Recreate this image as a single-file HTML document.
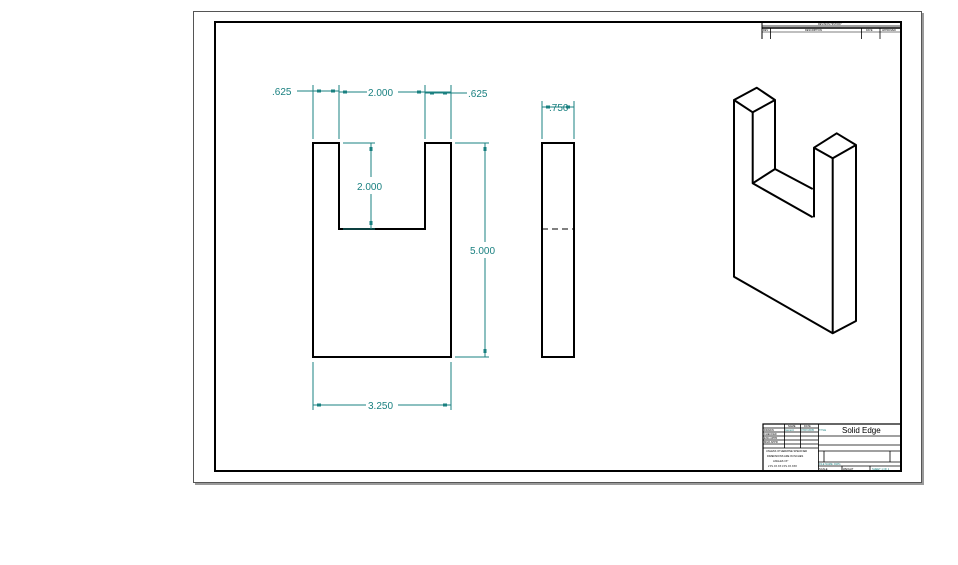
<!DOCTYPE html>
<html><head><style>
html,body{margin:0;padding:0;background:#fff;width:958px;height:565px;overflow:hidden}
svg{display:block}
text{font-family:"Liberation Sans",sans-serif}
</style></head><body>
<svg width="958" height="565" viewBox="0 0 958 565" xmlns="http://www.w3.org/2000/svg">
<!-- sheet -->
<rect x="195" y="13" width="729" height="472" fill="#9a9a9a"/>
<rect x="193.5" y="11.5" width="728" height="471" fill="#fff" stroke="#555" stroke-width="1"/>
<rect x="215" y="22" width="686" height="449" fill="none" stroke="#000" stroke-width="2"/>

<!-- revision block -->
<g stroke="#000" fill="none">
<line x1="762" y1="22" x2="901" y2="22" stroke-width="1"/>
<line x1="762" y1="26" x2="901" y2="26" stroke-width="0.8"/>
<line x1="762" y1="28" x2="901" y2="28" stroke-width="1.4"/>
<line x1="762" y1="22" x2="762" y2="39" stroke-width="1"/>
<line x1="770.5" y1="28" x2="770.5" y2="39" stroke-width="0.8"/>
<line x1="861.5" y1="28" x2="861.5" y2="39" stroke-width="0.8"/>
<line x1="880" y1="28" x2="880" y2="39" stroke-width="0.8"/>
<line x1="762" y1="32" x2="901" y2="32" stroke-width="0.6"/>
</g>
<g font-size="2.5" fill="#000">
<text x="818" y="25">REVISION HISTORY</text>
<text x="763" y="31">REV</text><text x="805" y="31">DESCRIPTION</text><text x="866" y="31">DATE</text><text x="882" y="31">APPROVED</text>
</g>

<!-- title block -->
<g stroke="#000" fill="none" stroke-width="0.8">
<rect x="763" y="424" width="138" height="47" stroke-width="1.2"/>
<line x1="763" y1="428" x2="818" y2="428"/>
<line x1="763" y1="432" x2="818" y2="432"/>
<line x1="763" y1="436" x2="901" y2="436"/>
<line x1="763" y1="440" x2="818" y2="440"/>
<line x1="763" y1="444" x2="818" y2="444"/>
<line x1="763" y1="448" x2="818" y2="448"/>
<line x1="818" y1="445" x2="901" y2="445"/>
<line x1="818" y1="451" x2="901" y2="451"/>
<line x1="818" y1="462" x2="901" y2="462"/>
<line x1="818" y1="466" x2="901" y2="466"/>
<line x1="784.5" y1="424" x2="784.5" y2="448"/>
<line x1="800.5" y1="424" x2="800.5" y2="448"/>
<line x1="818.5" y1="424" x2="818.5" y2="471"/>
<line x1="824" y1="451" x2="824" y2="462"/>
<line x1="890" y1="451" x2="890" y2="462"/>
<line x1="842" y1="466" x2="842" y2="471"/>
<line x1="870" y1="466" x2="870" y2="471"/>
</g>
<text x="842" y="433" font-size="8" fill="#000">Solid Edge</text>
<g font-size="2.6" fill="#000">
<text x="788" y="427">NAME</text><text x="804" y="427">DATE</text>
<text x="764" y="431">DRAWN</text><text x="764" y="435">CHECKED</text><text x="764" y="439">ENG APPR</text><text x="764" y="443">MGR APPR</text>
<text x="766" y="452">UNLESS OTHERWISE SPECIFIED</text>
<text x="767" y="457">DIMENSIONS ARE IN INCHES</text>
<text x="773" y="462">ANGLES ±X°</text>
<text x="768" y="467">2 PL ±X.XX 3 PL ±X.XXX</text>
<text x="819" y="470">SCALE</text><text x="843" y="470">WEIGHT</text>
</g>
<g font-size="2.6" fill="#1a8080">
<text x="785" y="431">Generic</text><text x="801" y="431">07/07/2005</text><text x="819" y="431">TITLE</text>
<text x="819" y="465">FILE NAME: DWG</text><text x="872" y="470">SHEET 1 OF 1</text>
</g>

<!-- front view -->
<path d="M313,357 L313,143 L339,143 L339,229 L425,229 L425,143 L451,143 L451,357 Z" fill="none" stroke="#000" stroke-width="2"/>
<!-- side view -->
<rect x="542" y="143" width="32" height="214" fill="none" stroke="#000" stroke-width="2"/>
<line x1="542" y1="229" x2="574" y2="229" stroke="#000" stroke-width="1" stroke-dasharray="6,4"/>

<!-- dimensions -->
<g stroke="#1a8080" stroke-width="1" fill="none">
<line x1="313" y1="85" x2="313" y2="139"/>
<line x1="339" y1="85" x2="339" y2="139"/>
<line x1="425" y1="85" x2="425" y2="139"/>
<line x1="451" y1="85" x2="451" y2="139"/>
<line x1="297" y1="91" x2="339" y2="91"/>
<line x1="339" y1="92" x2="367" y2="92"/>
<line x1="398" y1="92" x2="451" y2="92"/>
<line x1="425" y1="93" x2="467" y2="93"/>
<line x1="343" y1="143" x2="375" y2="143"/>
<line x1="371" y1="143" x2="371" y2="177"/>
<line x1="371" y1="194" x2="371" y2="229"/>
<line x1="343" y1="229" x2="375" y2="229"/>
<line x1="455" y1="143" x2="489" y2="143"/>
<line x1="455" y1="357" x2="489" y2="357"/>
<line x1="485" y1="143" x2="485" y2="242"/>
<line x1="485" y1="258" x2="485" y2="357"/>
<line x1="313" y1="362" x2="313" y2="410"/>
<line x1="451" y1="362" x2="451" y2="410"/>
<line x1="313" y1="405" x2="366" y2="405"/>
<line x1="398" y1="405" x2="451" y2="405"/>
<line x1="542" y1="101" x2="542" y2="139"/>
<line x1="574" y1="101" x2="574" y2="139"/>
<line x1="542" y1="107" x2="574" y2="107"/>
</g>
<g fill="#1a8080">
<rect x="317" y="89.5" width="4" height="3"/><rect x="331" y="89.5" width="4" height="3"/>
<rect x="343" y="90.5" width="4" height="3"/><rect x="417" y="90.5" width="4" height="3"/>
<rect x="430" y="91.5" width="4" height="3"/><rect x="443" y="91.5" width="4" height="3"/>
<rect x="369.5" y="147" width="3" height="4"/><rect x="369.5" y="221" width="3" height="4"/>
<rect x="483.5" y="147" width="3" height="4"/><rect x="483.5" y="349" width="3" height="4"/>
<rect x="317" y="403.5" width="4" height="3"/><rect x="443" y="403.5" width="4" height="3"/>
<rect x="546" y="105.5" width="4" height="3"/><rect x="566" y="105.5" width="4" height="3"/>
</g>
<g font-size="10" fill="#1a8080">
<text x="272" y="95">.625</text>
<text x="368" y="96">2.000</text>
<text x="468" y="97">.625</text>
<text x="549" y="111">.750</text>
<text x="357" y="190">2.000</text>
<text x="470" y="254">5.000</text>
<text x="368" y="409">3.250</text>
</g>

<!-- iso view -->
<g fill="none" stroke="#000" stroke-width="2" stroke-linejoin="round">
<path d="M756.7,87.7 L734,100 L752.7,112.3 L775,100 Z"/>
<path d="M734,100 L734,276.7 L832.7,333.3 L856,321 L856,145"/>
<path d="M752.7,112.3 L752.7,183.3 L812.7,217.3"/>
<path d="M775,100 L775,169 L812.7,189"/>
<path d="M752.7,183.3 L775,169"/>
<path d="M814,147.7 L836.7,133.3 L856,145 L832.7,158.3 Z"/>
<path d="M814,147.7 L814,217.3"/>
<path d="M832.7,158.3 L832.7,333.3"/>
</g>
</svg>
</body></html>
